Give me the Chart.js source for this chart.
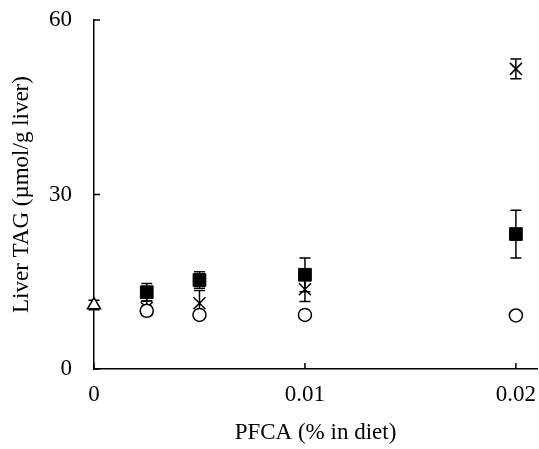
<!DOCTYPE html>
<html>
<head>
<meta charset="utf-8">
<script src="https://cdn.jsdelivr.net/npm/chart.js@4/dist/chart.umd.min.js"></script>
<style>
  html, body { margin: 0; padding: 0; background: #fff; }
  #wrap { width: 539px; height: 449px; position: relative; }
</style>
</head>
<body>
<div id="wrap"><canvas id="c" width="539" height="449"></canvas></div>
<script>
// PFCA dose levels (% in diet) and liver TAG (µmol/g liver), mean ± SE
const controlDose = [0];
const controlTag = [11.0];
const controlErr = [0.8];

const doses = [0.0025, 0.005, 0.01, 0.02];

const squareTag = [13.2, 15.3, 16.2, 23.2];
const squareErr = [1.5, 1.4, 2.9, 4.1];

const crossTag = [10.5, 11.3, 13.7, 51.6];
const crossErr = [1.2, 2.2, 2.1, 1.7];

const circleTag = [10.0, 9.3, 9.3, 9.2];
const circleErr = [0.8, 0.3, 0.3, 0.5];

const xTicks = [0, 0.01, 0.02];
const yTicks = [0, 30, 60];

const toPoints = (xs, ys) => xs.map((x, i) => ({ x: x, y: ys[i] }));

const FONT = "'Liberation Serif', 'Times New Roman', serif";

// error bars drawn underneath the markers, ticks drawn pointing inward
const errorBars = {
  id: 'errorBars',
  beforeDatasetsDraw(chart) {
    const { ctx, scales: { x, y } } = chart;
    ctx.save();
    ctx.strokeStyle = '#000';
    ctx.lineWidth = 1.5;
    chart.data.datasets.forEach(ds => {
      ds.data.forEach((p, i) => {
        const e = ds.errors[i];
        if (!e) return;
        const px = x.getPixelForValue(p.x);
        const top = y.getPixelForValue(p.y + e);
        const bot = y.getPixelForValue(p.y - e);
        const cap = 5.5;
        ctx.beginPath();
        ctx.moveTo(px, top); ctx.lineTo(px, bot);
        ctx.moveTo(px - cap, top); ctx.lineTo(px + cap, top);
        ctx.moveTo(px - cap, bot); ctx.lineTo(px + cap, bot);
        ctx.stroke();
      });
    });
    ctx.restore();
  },
  afterDraw(chart) {
    const { ctx, scales: { x, y } } = chart;
    ctx.save();
    ctx.strokeStyle = '#000';
    ctx.lineWidth = 1.5;
    const x0 = x.getPixelForValue(0);
    const y0 = y.getPixelForValue(0);
    ctx.beginPath();
    yTicks.forEach(v => {
      const py = y.getPixelForValue(v);
      ctx.moveTo(x0, py); ctx.lineTo(x0 + 6, py);
    });
    xTicks.forEach(v => {
      const px = x.getPixelForValue(v);
      ctx.moveTo(px, y0); ctx.lineTo(px, y0 - 6);
    });
    ctx.stroke();
    ctx.restore();
  }
};

new Chart(document.getElementById('c'), {
  type: 'scatter',
  data: {
    datasets: [
      {
        data: toPoints(controlDose, controlTag), errors: controlErr,
        pointStyle: 'triangle', radius: 7.5, borderColor: '#000',
        backgroundColor: '#fff', borderWidth: 1.5, clip: false
      },
      {
        data: toPoints(doses, circleTag), errors: circleErr,
        pointStyle: 'circle', radius: 6.5, borderColor: '#000',
        backgroundColor: '#fff', borderWidth: 1.5, clip: false
      },
      {
        data: toPoints(doses, crossTag), errors: crossErr,
        pointStyle: 'crossRot', radius: 8.5, borderColor: '#000',
        backgroundColor: '#000', borderWidth: 1.5, clip: false
      },
      {
        data: toPoints(doses, squareTag), errors: squareErr,
        pointStyle: 'rect', radius: 9, borderColor: '#000',
        backgroundColor: '#000', borderWidth: 1, clip: false
      }
    ]
  },
  options: {
    responsive: false,
    animation: false,
    events: [],
    layout: { autoPadding: false, padding: { top: 20, right: 2, bottom: 0, left: 0 } },
    plugins: { legend: { display: false }, tooltip: { enabled: false } },
    scales: {
      x: {
        type: 'linear', min: 0, max: 0.021,
        afterBuildTicks: s => { s.ticks = xTicks.map(v => ({ value: v })); },
        afterFit: s => { s.height = 80; s.paddingLeft = 0; s.paddingRight = 0; },
        grid: { display: false },
        border: { display: true, color: '#000', width: 1.5 },
        ticks: {
          color: '#000', font: { family: FONT, size: 23 }, padding: 4,
          maxRotation: 0, callback: v => String(v)
        },
        title: {
          display: true, text: 'PFCA (% in diet)', color: '#000',
          font: { family: FONT, size: 23 }, padding: { top: 2, bottom: 2 }
        }
      },
      y: {
        type: 'linear', min: 0, max: 60,
        afterBuildTicks: s => { s.ticks = yTicks.map(v => ({ value: v })); },
        afterFit: s => { s.width = 94; s.paddingTop = 0; s.paddingBottom = 0; },
        grid: { display: false },
        border: { display: true, color: '#000', width: 1.5 },
        ticks: {
          color: '#000', font: { family: FONT, size: 23 }, padding: 14
        },
        title: {
          display: true, text: 'Liver TAG (µmol/g liver)', color: '#000',
          font: { family: FONT, size: 23 }, padding: { top: 8, bottom: 8 }
        }
      }
    }
  },
  plugins: [errorBars]
});
</script>
</body>
</html>
